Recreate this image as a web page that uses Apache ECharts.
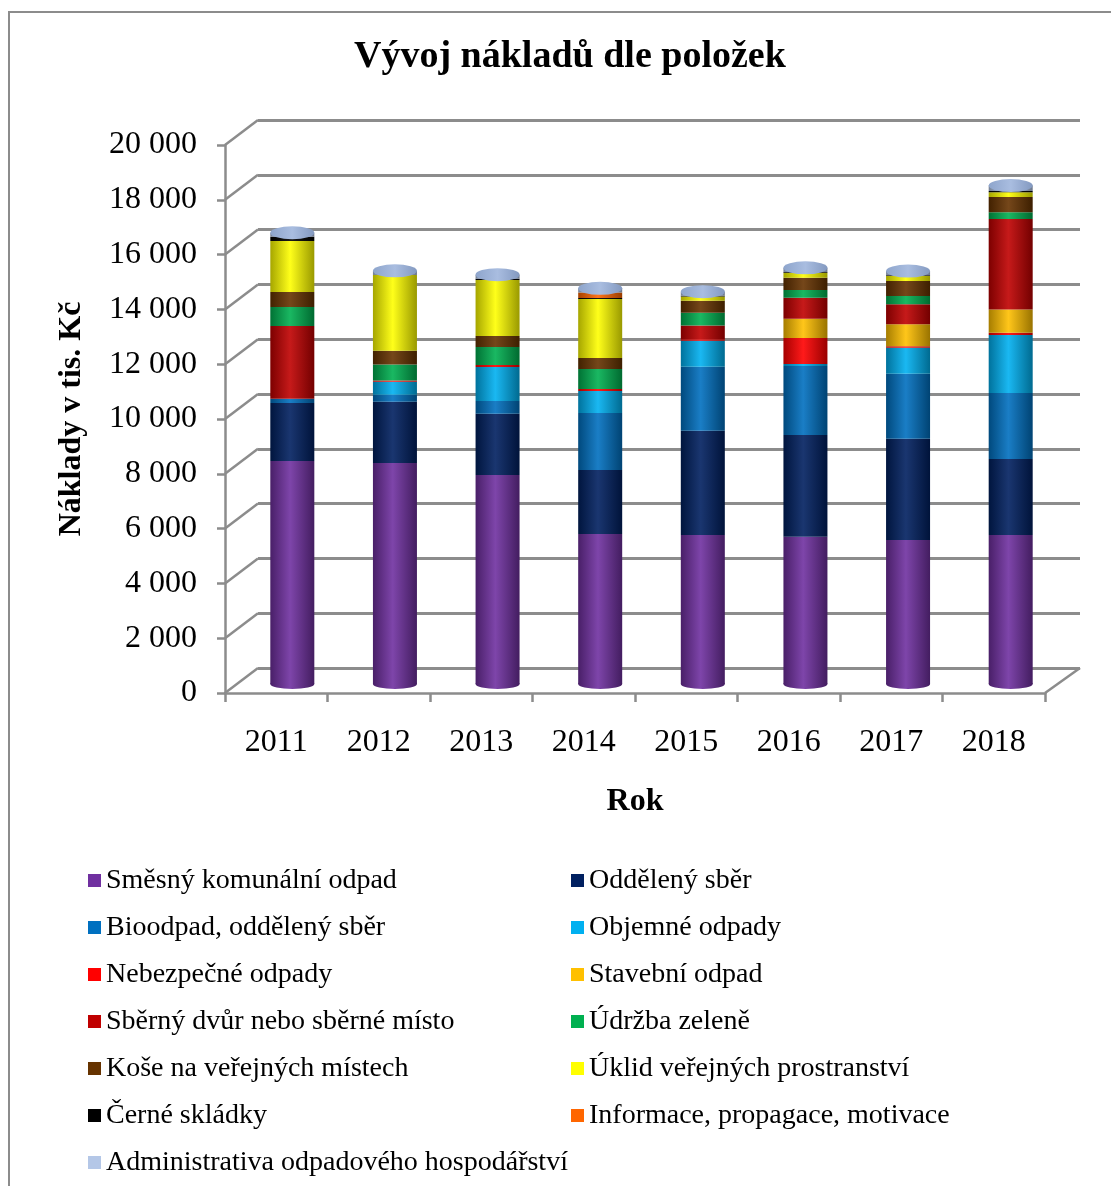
<!DOCTYPE html>
<html>
<head>
<meta charset="utf-8">
<script src="https://cdn.jsdelivr.net/npm/echarts@6/dist/echarts.min.js"></script>
<style>
html, body { margin: 0; padding: 0; background: #fff; }
#chart { width: 1111px; height: 1186px; }
</style>
</head>
<body>
<div id="chart"></div>
<script>
// data (tis. Kč)
var roky = ['2011', '2012', '2013', '2014', '2015', '2016', '2017', '2018'];
var smesnyOdpad      = [8140, 8070, 7630, 5470, 5440, 5370, 5260, 5440];
var oddelenySber     = [2120, 2230, 2230, 2340, 3800, 3720, 3690, 2770];
var bioodpad         = [150, 260, 470, 2080, 2340, 2520, 2370, 2410];
var objemneOdpady    = [0, 470, 1240, 800, 950, 70, 950, 2120];
var nebezpecneOdpady = [0, 50, 70, 80, 50, 950, 60, 80];
var stavebniOdpad    = [0, 0, 0, 0, 0, 700, 800, 850];
var sbernyDvur       = [2660, 0, 0, 0, 500, 770, 730, 3300];
var udrzbaZelene     = [690, 580, 660, 730, 470, 280, 300, 250];
var koseNaMistech    = [550, 500, 400, 400, 440, 450, 550, 550];
var uklidProstranstvi = [1860, 2770, 2040, 2150, 150, 180, 180, 180];
var cerneSkladky     = [150, 0, 50, 40, 30, 30, 30, 40];
var informace        = [0, 0, 0, 200, 0, 0, 0, 0];
var administrativa   = [150, 150, 150, 150, 150, 150, 150, 200];

var yMin = 0, yMax = 20000, yStep = 2000;

var polozky = [
    {name: 'Směsný komunální odpad', color: '#7030A0', data: smesnyOdpad},
    {name: 'Oddělený sběr', color: '#002060', data: oddelenySber},
    {name: 'Bioodpad, oddělený sběr', color: '#0070C0', data: bioodpad},
    {name: 'Objemné odpady', color: '#00B0F0', data: objemneOdpady},
    {name: 'Nebezpečné odpady', color: '#FF0000', data: nebezpecneOdpady},
    {name: 'Stavební odpad', color: '#FFC000', data: stavebniOdpad},
    {name: 'Sběrný dvůr nebo sběrné místo', color: '#C00000', data: sbernyDvur},
    {name: 'Údržba zeleně', color: '#00B050', data: udrzbaZelene},
    {name: 'Koše na veřejných místech', color: '#663300', data: koseNaMistech},
    {name: 'Úklid veřejných prostranství', color: '#FFFF00', data: uklidProstranstvi},
    {name: 'Černé skládky', color: '#000000', data: cerneSkladky},
    {name: 'Informace, propagace, motivace', color: '#FF6600', data: informace},
    {name: 'Administrativa odpadového hospodářství', color: '#B4C7E7', data: administrativa}
];

var font = 'Liberation Serif';
var gridColor = '#8c8c8c';

// front plane / back wall / bars (mid depth)
var front = {left: 225, top: 145, width: 820, height: 548};
var back = {left: 258, top: 120, width: 822, height: 548};
var bars = {left: 241, top: 136, width: 821, height: 548};

function shade(hex, f) {
    var n = parseInt(hex.slice(1), 16);
    var c = [(n >> 16) & 255, (n >> 8) & 255, n & 255].map(function (v) {
        return Math.round(f < 0 ? v * (1 + f) : v + (255 - v) * f);
    });
    return 'rgb(' + c.join(',') + ')';
}
function cylinder(hex) {
    return new echarts.graphic.LinearGradient(0, 0, 1, 0, [
        {offset: 0, color: shade(hex, -0.35)},
        {offset: 0.45, color: shade(hex, 0.1)},
        {offset: 1, color: shade(hex, -0.4)}
    ]);
}
function tisice(v) {
    return String(v).replace(/\B(?=(\d{3})+(?!\d))/g, ' ');
}

var soucty = roky.map(function (r, i) {
    return polozky.reduce(function (s, p) { return s + p.data[i]; }, 0);
});

var chart = echarts.init(document.getElementById('chart'));

var series = [];
series.push({
    type: 'pictorialBar', xAxisIndex: 2, yAxisIndex: 2,
    data: soucty, symbol: 'circle', symbolSize: [44, 10],
    symbolPosition: 'start', symbolOffset: [0, '50%'],
    itemStyle: {color: cylinder('#7030A0')}, z: 1, silent: true
});
polozky.forEach(function (p) {
    series.push({
        name: p.name, type: 'bar', stack: 'naklady',
        xAxisIndex: 2, yAxisIndex: 2, barWidth: 44,
        data: p.data,
        itemStyle: {color: cylinder(p.color)}, z: 2
    });
});
series.push({
    type: 'pictorialBar', xAxisIndex: 2, yAxisIndex: 2,
    data: soucty, symbol: 'circle', symbolSize: [44, 13],
    symbolPosition: 'end', symbolOffset: [0, '-50%'],
    itemStyle: {color: new echarts.graphic.LinearGradient(0, 0, 1, 0, [
        {offset: 0, color: '#8ea5cc'}, {offset: 0.5, color: '#a9bde0'}, {offset: 1, color: '#8399c0'}
    ])}, z: 3, silent: true
});

var option = {
    animation: false,
    title: {
        text: 'Vývoj nákladů dle položek',
        left: 349, top: 33,
        textStyle: {fontFamily: font, fontSize: 38, fontWeight: 'bold', color: '#000'}
    },
    legend: {
        data: polozky.map(function (p) { return {name: p.name, itemStyle: {color: p.color}}; }),
        left: 83, top: 852, width: 1000,
        orient: 'horizontal', itemGap: 0,
        itemWidth: 13, itemHeight: 13, icon: 'rect',
        selectedMode: false,
        textStyle: {fontFamily: font, fontSize: 28, color: '#000', width: 465, lineHeight: 47}
    },
    grid: [
        Object.assign({}, front),
        Object.assign({}, back),
        Object.assign({}, bars)
    ],
    xAxis: [
        {
            gridIndex: 0, type: 'category', data: roky,
            axisLine: {lineStyle: {color: gridColor, width: 2.5}},
            axisTick: {show: true, length: 9, lineStyle: {color: gridColor, width: 2.5}},
            axisLabel: {margin: 34, fontFamily: font, fontSize: 32, color: '#000'},
            name: 'Rok', nameLocation: 'middle', nameGap: 93,
            nameTextStyle: {fontFamily: font, fontSize: 32, fontWeight: 'bold', color: '#000'}
        },
        {gridIndex: 1, type: 'category', data: roky, show: false},
        {gridIndex: 2, type: 'category', data: roky, show: false}
    ],
    yAxis: [
        {
            gridIndex: 0, type: 'value', min: yMin, max: yMax, interval: yStep,
            axisLine: {show: true, lineStyle: {color: gridColor, width: 2.5}},
            axisTick: {show: true, length: 8, lineStyle: {color: gridColor, width: 2.5}},
            splitLine: {show: false},
            axisLabel: {margin: 28, fontFamily: font, fontSize: 32, color: '#000', formatter: tisice},
            name: 'Náklady v tis. Kč', nameLocation: 'middle', nameGap: 137, nameRotate: 90,
            nameTextStyle: {fontFamily: font, fontSize: 32, fontWeight: 'bold', color: '#000'}
        },
        {
            gridIndex: 1, type: 'value', min: yMin, max: yMax, interval: yStep,
            axisLine: {show: false}, axisTick: {show: false}, axisLabel: {show: false},
            splitLine: {show: true, lineStyle: {color: gridColor, width: 3}}
        },
        {gridIndex: 2, type: 'value', min: yMin, max: yMax, interval: yStep, show: false, splitLine: {show: false}}
    ],
    series: series
};

chart.setOption(option);

// perspective edges linking front axis and back wall
var hrany = [];
for (var v = yMin; v <= yMax; v += yStep) {
    var yF = chart.convertToPixel({yAxisIndex: 0}, v);
    var yB = chart.convertToPixel({yAxisIndex: 1}, v);
    hrany.push({
        type: 'line', silent: true, z: 0,
        shape: {x1: front.left, y1: yF, x2: back.left, y2: yB},
        style: {stroke: gridColor, lineWidth: 2.5}
    });
}
var y0F = chart.convertToPixel({yAxisIndex: 0}, yMin);
var y0B = chart.convertToPixel({yAxisIndex: 1}, yMin);
hrany.push({
    type: 'line', silent: true, z: 0,
    shape: {x1: front.left + front.width, y1: y0F, x2: back.left + back.width, y2: y0B},
    style: {stroke: gridColor, lineWidth: 2.5}
});
hrany.push({
    type: 'rect', silent: true, z: 0,
    shape: {x: 9, y: 12, width: 1200, height: 1200},
    style: {fill: 'none', stroke: gridColor, lineWidth: 2}
});
chart.setOption({graphic: hrany});
</script>
</body>
</html>
